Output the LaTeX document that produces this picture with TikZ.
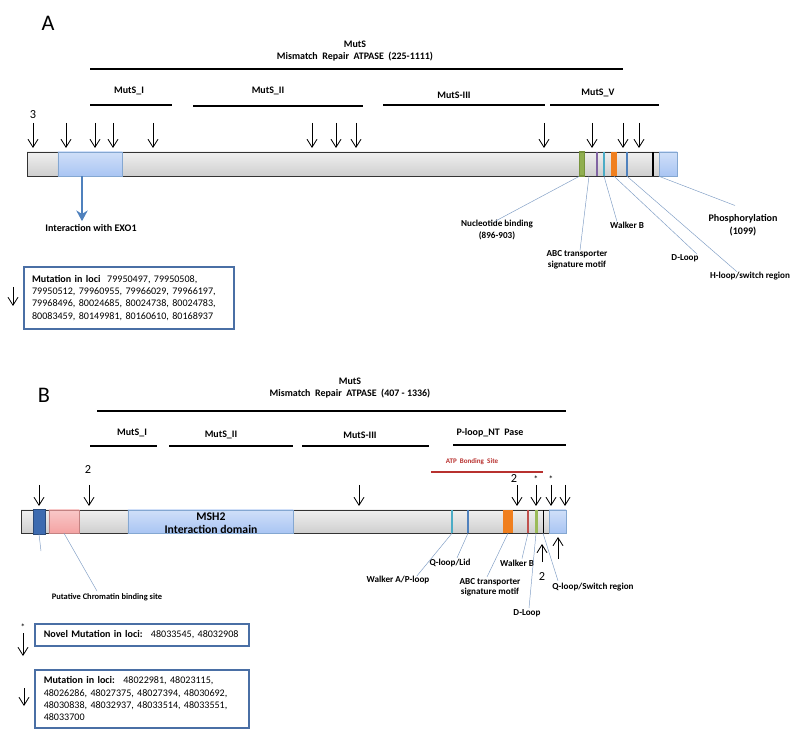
\documentclass[tikz,border=0pt]{standalone}
\usepackage{fontspec}
\setmainfont{Carlito}
\usetikzlibrary{arrows.meta,calc}
\definecolor{leadblue}{HTML}{7F9DC4}
\definecolor{boxblue}{HTML}{4A6FA5}
\definecolor{domblue}{HTML}{A9C5F3}
\definecolor{bandgreen}{HTML}{77933C}
\definecolor{bandpurple}{HTML}{8064A2}
\definecolor{bandcyan}{HTML}{4BACC6}
\definecolor{bandorange}{HTML}{F07F1E}
\definecolor{bandblue}{HTML}{4F81BD}
\definecolor{bandred}{HTML}{C0504D}
\definecolor{lightgreen}{HTML}{9BBB59}
\definecolor{atpred}{HTML}{B8312F}
\definecolor{pinkbox}{HTML}{F4A3A3}
\definecolor{darkbox}{HTML}{3D6BB0}

\begin{document}
\begin{tikzpicture}[x=0.03cm,y=-0.03cm,
  domline/.style={line width=2pt},
  domlab/.style={font=\fontsize{8.5}{11}\selectfont\bfseries,align=center},
  mut/.style={line width=0.7pt,-{Straight Barb[length=2.4mm,width=3mm]}},
  bar/.style={draw=gray!40!black,top color=gray!12,bottom color=gray!38},
  dombox/.style={draw=bandblue!70,top color=domblue!55,bottom color=domblue,inner sep=0pt},
  band/.style={inner sep=0pt,minimum width=0.06cm},
  lead/.style={leadblue,thin},
  lab/.style={font=\fontsize{7.8}{9.5}\selectfont\bfseries,align=center,inner sep=0pt},
  legbox/.style={draw=boxblue,line width=1.3pt,align=left,anchor=north west,font=\fontsize{8.6}{10.6}\selectfont}]
\useasboundingbox (0,0) rectangle (800,736);

\node[font=\fontsize{19}{19}\selectfont] (pA) at (48,23) {A};
\node[domlab] (mutsA) at (355,51) {MutS\\Mismatch~ Repair~ ATPASE~ (225-1111)};
\draw[domline] (90,69) -- (623,69);
\node[domlab] (m1A) at (129,91) {MutS\_I};
\node[domlab] (m2A) at (268,91) {MutS\_II};
\node[domlab] (m3A) at (454,95) {MutS-III};
\node[domlab] (m5A) at (598,93) {MutS\_V};
\draw[domline] (90,105) -- (172,105);
\draw[domline] (193,106) -- (363,106);
\draw[domline] (383,105) -- (545,105);
\draw[domline] (550,105) -- (659,105);
\node[font=\fontsize{10.5}{10.5}\selectfont] (n3A) at (33,115) {3};
\foreach \x in {33,66,95,113,153,312,336,356,544,592,623,639}
  \draw[mut] (\x,123) -- (\x,148);

\draw[bar] (27,152) rectangle (677,176);
\node[dombox,minimum width=1.92cm,minimum height=0.72cm] (exoA) at (90,164) {};
\node[dombox,minimum width=0.54cm,minimum height=0.72cm] (endA) at (668,164) {};
\node[band,minimum width=0.16cm,minimum height=0.72cm,draw=bandgreen,fill=lightgreen!70!bandgreen,line width=1pt] (gA) at (582,164) {};
\node[band,minimum height=0.72cm,fill=bandpurple] (pA1) at (597,164) {};
\node[band,minimum height=0.72cm,fill=bandcyan] (cA) at (604,164) {};
\node[band,minimum width=0.18cm,minimum height=0.72cm,fill=bandorange] (oA) at (614,164) {};
\node[band,minimum height=0.72cm,fill=bandblue] (bA) at (627,164) {};
\node[band,minimum height=0.72cm,fill=black] (kA) at (653,164) {};

\node[lab,font=\fontsize{8.6}{10}\selectfont\bfseries] (exoLab) at (91,228) {Interaction with EXO1};
\draw[bandblue,line width=2pt,-{Stealth[length=3.2mm,width=3.4mm]}] ($(exoA.south)+(-8,0)$) -- ($(exoLab.north)+(-9,-3)$);
\node[lab] (nbA) at (497,230) {Nucleotide binding\\(896-903)};
\node[lab] (abcA) at (577,260) {ABC transporter\\signature motif};
\node[lab] (wbA) at (627,225) {Walker B};
\node[lab] (dlA) at (685,258) {D-Loop};
\node[lab] (hlA) at (750,276) {H-loop/switch region};
\node[lab,font=\fontsize{8.6}{11}\selectfont\bfseries] (phA) at (743,225.5) {Phosphorylation\\(1099)};
\draw[lead] (gA.south west) -- ($(nbA.north)+(-2,1)$);
\draw[lead] ($(pA1.south)+(-8,0)$) -- ($(abcA.north)+(3,0)$);
\draw[lead] (cA.south) -- ($(wbA.north)+(-10,0)$);
\draw[lead] (oA.south) -- ($(dlA.north)+(12,0)$);
\draw[lead] (bA.south) -- ($(hlA.north)+(-13,0)$);
\draw[lead] (endA.south west) -- ($(phA.north)+(-8,-9)$);

\node[legbox,text width=5.8cm,inner xsep=0.25cm,minimum height=1.86cm] (legA) at (23,266)
  {\textbf{Mutation in loci}~ 79950497, 79950508,\\79950512, 79960955, 79966029, 79966197,\\79968496, 80024685, 80024738, 80024783,\\80083459, 80149981, 80160610, 80168937};
\draw[mut] (13,287) -- (13,306);

\node[font=\fontsize{19}{19}\selectfont] (pB) at (44,395) {B};
\node[domlab] (mutsB) at (350,388) {MutS\\Mismatch~ Repair~ ATPASE~ (407 - 1336)};
\draw[domline] (97,411) -- (566,411);
\node[domlab] (m1B) at (132,433) {MutS\_I};
\node[domlab] (m2B) at (221,435) {MutS\_II};
\node[domlab] (m3B) at (360,435) {MutS-III};
\node[domlab] (plB) at (490,433) {P-loop\_NT~ Pase};
\draw[domline] (90,446) -- (157,446);
\draw[domline] (169,446) -- (293,446);
\draw[domline] (302,446) -- (429,446);
\draw[domline] (453,445) -- (566,445);
\node[font=\fontsize{6}{6}\selectfont\bfseries,text=atpred] (atpB) at (472,462) {ATP~ Bonding~ Site};
\draw[atpred,line width=1.2pt] (431,472) -- (543,472);

\node[font=\fontsize{10.5}{10.5}\selectfont] (n2B) at (88,470) {2};
\node[font=\fontsize{10.5}{10.5}\selectfont] (n2bB) at (514,479) {2};
\node[font=\fontsize{8}{8}\selectfont] (s1B) at (536,479) {*};
\node[font=\fontsize{8}{8}\selectfont] (s2B) at (551,479) {*};
\foreach \x in {39,89,359,517,536,551,565}
  \draw[mut] (\x,485) -- (\x,506);

\draw[bar] (21,510) rectangle (566,533);
\node[inner sep=0pt,draw=darkbox!70!black,fill=darkbox,minimum width=0.36cm,minimum height=0.75cm] (cbB) at (39,521.5) {};
\node[inner sep=0pt,draw=pinkbox!80!black,top color=pinkbox!60,bottom color=pinkbox,minimum width=0.9cm,minimum height=0.69cm] (pcB) at (64,521.5) {};
\node[dombox,minimum width=4.95cm,minimum height=0.69cm] (mshB) at (210.5,521.5) {};
\node[font=\fontsize{10}{11}\selectfont\bfseries,align=center] (mshLab) at (211,523) {MSH2\\Interaction domain};
\node[dombox,minimum width=0.51cm,minimum height=0.69cm] (endB) at (557.5,521.5) {};
\node[band,minimum height=0.69cm,fill=bandcyan] (cB) at (452,521.5) {};
\node[band,minimum height=0.69cm,fill=bandblue] (bB) at (468,521.5) {};
\node[band,minimum width=0.3cm,minimum height=0.69cm,fill=bandorange] (oB) at (508,521.5) {};
\node[band,minimum height=0.69cm,fill=bandred] (rB) at (528,521.5) {};
\node[band,minimum width=0.09cm,minimum height=0.69cm,fill=lightgreen] (gB) at (536,521.5) {};
\node[band,minimum width=0.03cm,minimum height=0.69cm,fill=black] (kB) at (543,521.5) {};

\draw[mut] (542,562) -- (542,544);
\draw[mut] (558,559) -- (558,537);
\node[font=\fontsize{10.5}{10.5}\selectfont] (n2cB) at (542,577) {2};

\coordinate (cbEnd) at (41,551);
\draw[lead] (cbB.south) -- (cbEnd);
\node[lab,font=\fontsize{7.2}{8}\selectfont\bfseries] (pcLab) at (107,597) {Putative Chromatin binding site};
\draw[lead] (pcB.south) -- ($(pcLab.north)+(-10,-2)$);
\node[lab] (waB) at (398,580) {Walker A/P-loop};
\node[lab] (qlB) at (450,563) {Q-loop/Lid};
\node[lab,font=\fontsize{7.8}{8.6}\selectfont\bfseries] (abcB) at (490,587) {ABC transporter\\signature motif};
\node[lab] (wbB) at (517,563) {Walker B};
\node[lab] (dlB) at (527,613) {D-Loop};
\node[lab] (qsB) at (593,587) {Q-loop/Switch region};
\draw[lead] (cB.south) -- ($(waB.north)+(19,0)$);
\draw[lead] (bB.south) -- ($(qlB.north)+(7,-1)$);
\draw[lead] (oB.south) -- ($(abcB.north)+(-3,-1)$);
\draw[lead] (rB.south) -- ($(wbB.north)+(5,-1)$);
\draw[lead] (gB.south) -- ($(dlB.north)+(2,-1)$);
\draw[lead] (kB.south) -- ($(qsB.north)+(-35,-2)$);

\node[font=\fontsize{8}{8}\selectfont] (sLeg) at (23,627) {*};
\draw[mut] (23,633) -- (23,656);
\node[legbox,text width=5.88cm,inner xsep=0.27cm,minimum height=0.66cm] (legB1) at (34,623)
  {\textbf{Novel Mutation in loci:}~ 48033545, 48032908};
\draw[mut] (24,688) -- (24,706);
\node[legbox,text width=5.88cm,inner xsep=0.27cm,minimum height=1.74cm] (legB2) at (34,669)
  {\textbf{Mutation in loci:}~ 48022981, 48023115,\\48026286, 48027375, 48027394, 48030692,\\48030838, 48032937, 48033514, 48033551,\\48033700};
\end{tikzpicture}
\end{document}
